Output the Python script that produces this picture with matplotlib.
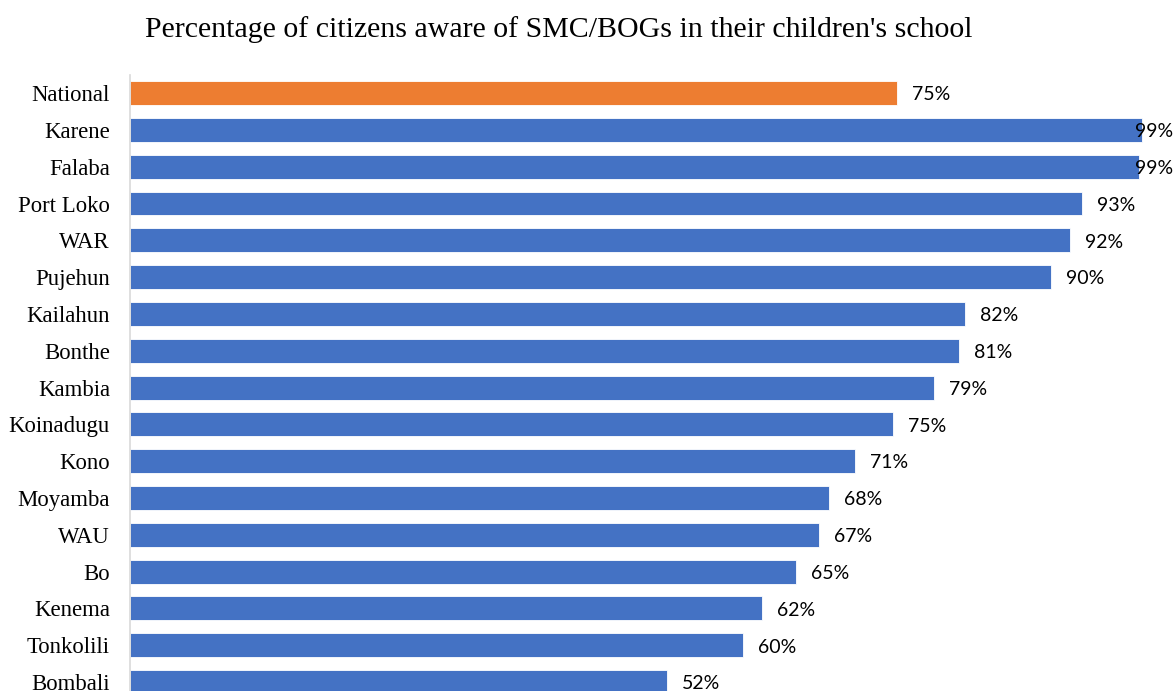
import matplotlib
matplotlib.use("Agg")
import matplotlib.pyplot as plt

title = "Percentage of citizens aware of SMC/BOGs in their children's school"
categories = ["National", "Karene", "Falaba", "Port Loko", "WAR", "Pujehun", "Kailahun",
              "Bonthe", "Kambia", "Koinadugu", "Kono", "Moyamba", "WAU", "Bo", "Kenema",
              "Tonkolili", "Bombali"]
values = [75.05, 98.99, 98.7, 93.15, 91.98, 90.1, 81.7, 81.1, 78.7, 74.7, 70.9, 68.4,
          67.4, 65.2, 61.8, 59.95, 52.5]
labels = ["75%", "99%", "99%", "93%", "92%", "90%", "82%", "81%", "79%", "75%", "71%",
          "68%", "67%", "65%", "62%", "60%", "52%"]

W, H = 1175, 691
fig = plt.figure(figsize=(W / 100, H / 100), dpi=100)
ax = fig.add_axes([130 / W, 0, 1 - 130 / W, 1 - 74.7 / H])

colors = ["#ED7D31"] + ["#4472C4"] * (len(categories) - 1)
ypos = list(range(len(categories)))
ax.barh(ypos, values, height=0.65, color=colors, edgecolor="white", linewidth=0.6)

xmax = (W - 130) / 10.22
ax.set_xlim(0, xmax)
ax.set_ylim(16.245, -0.5)

px = xmax / (W - 130)
for y, v, lab in zip(ypos, values, labels):
    x = v + 15 * px
    if x + 40 * px > xmax:
        ax.text(xmax - 2 * px, y + 0.05, lab, ha="right", va="center", fontsize=14,
                family="Lato", color="#000000")
    else:
        ax.text(x, y + 0.05, lab, ha="left", va="center", fontsize=14,
                family="Lato", color="#000000")

ax.set_yticks(ypos)
ax.set_yticklabels(categories, family="Liberation Serif", fontsize=16.4)
ax.tick_params(axis="y", length=0, pad=14.4)
ax.set_xticks([])
for s in ["top", "right", "bottom"]:
    ax.spines[s].set_visible(False)
ax.spines["left"].set_color("#D9D9D9")
ax.spines["left"].set_linewidth(1.2)

fig.text(559 / W, 1 - 37 / H, title, ha="center", va="baseline",
         family="Liberation Serif", fontsize=21.5)

fig.savefig("out.png", dpi=100)
